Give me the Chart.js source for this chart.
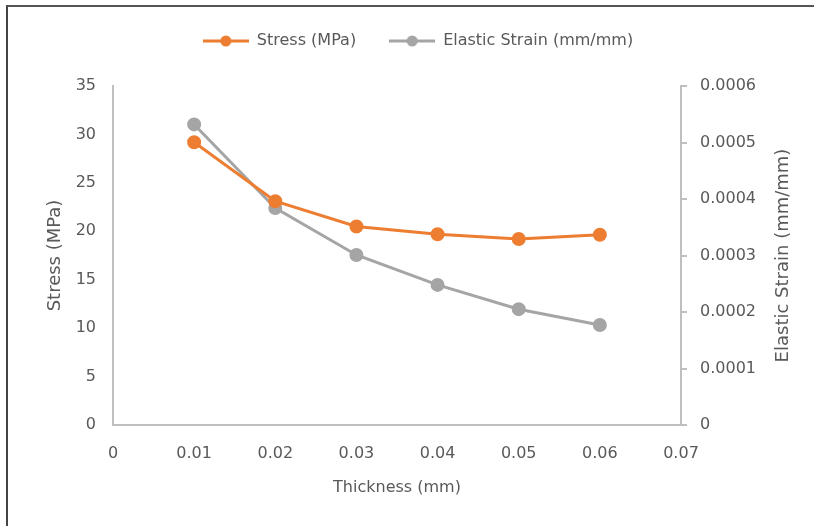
<!DOCTYPE html>
<html>
<head>
<meta charset="utf-8">
<title>Stress / Elastic Strain vs Thickness</title>
<script src="https://cdn.jsdelivr.net/npm/chart.js@4.4.1/dist/chart.umd.min.js"></script>
<style>
    html, body { margin: 0; padding: 0; background: #fff; }
    #wrap { position: relative; width: 814px; height: 526px; overflow: hidden; }
    #frame {
        position: absolute; left: 6px; top: 5px; right: -10px; bottom: -10px;
        border-top: 2px solid #555; border-left: 2px solid #444;
        pointer-events: none;
    }
</style>
</head>
<body>
<div id="wrap">
    <canvas id="chart" width="814" height="526"></canvas>
    <div id="frame"></div>
</div>
<script>
// ---- data ----
const thickness = [0.01, 0.02, 0.03, 0.04, 0.05, 0.06];
const stress = [29.2, 23.1, 20.5, 19.7, 19.2, 19.65];
const strain = [0.000532, 0.000384, 0.000301, 0.000248, 0.000205, 0.000177];

const seriesNames = ['Stress (MPa)', 'Elastic Strain (mm/mm)'];
const xTitle = 'Thickness (mm)';
const yLeftTitle = 'Stress (MPa)';
const yRightTitle = 'Elastic Strain (mm/mm)';

const ORANGE = '#ED7D31';
const GRAY = '#A5A5A5';
const TEXT = '#595959';
const AXIS = '#BFBFBF';
const FONT = "'DejaVu Sans', 'Open Sans', sans-serif";

// legend marker: short line with a dot
function legendMarker(color) {
    const c = document.createElement('canvas');
    c.width = 46; c.height = 14;
    const g = c.getContext('2d');
    g.strokeStyle = color; g.lineWidth = 3;
    g.beginPath(); g.moveTo(0, 7); g.lineTo(46, 7); g.stroke();
    g.fillStyle = color;
    g.beginPath(); g.arc(23, 7, 5.5, 0, Math.PI * 2); g.fill();
    return c;
}

// y-axis titles drawn reading bottom-to-top on both sides
const axisTitles = {
    id: 'axisTitles',
    afterDraw(chart) {
        const { ctx, chartArea } = chart;
        const cy = (chartArea.top + chartArea.bottom) / 2;
        ctx.save();
        ctx.fillStyle = TEXT;
        ctx.font = '18px ' + FONT;
        ctx.textAlign = 'center';
        ctx.textBaseline = 'middle';
        [[55, yLeftTitle], [783, yRightTitle]].forEach(([x, t]) => {
            ctx.save();
            ctx.translate(x, cy);
            ctx.rotate(-Math.PI / 2);
            ctx.fillText(t, 0, 0);
            ctx.restore();
        });
        ctx.restore();
    }
};

// the legend box takes the whole band above the plot
const legendHeight = {
    id: 'legendHeight',
    afterInit(chart) {
        const lg = chart.legend;
        const fit = lg.fit;
        lg.fit = function () { fit.call(this); this.height = 86; };
    }
};

const fmtX = v => v === 0 ? '0' : (+v.toFixed(2)).toString();
const fmtR = v => v === 0 ? '0' : v.toFixed(4);

new Chart(document.getElementById('chart'), {
    type: 'line',
    data: {
        datasets: [
            {
                label: seriesNames[0],
                data: thickness.map((x, i) => ({ x, y: stress[i] })),
                yAxisID: 'y',
                borderColor: ORANGE, backgroundColor: ORANGE,
                borderWidth: 3, pointRadius: 5.5, pointHoverRadius: 5.5,
                pointStyle: 'circle', tension: 0
            },
            {
                label: seriesNames[1],
                data: thickness.map((x, i) => ({ x, y: strain[i] })),
                yAxisID: 'y1',
                borderColor: GRAY, backgroundColor: GRAY,
                borderWidth: 3, pointRadius: 5.5, pointHoverRadius: 5.5,
                pointStyle: 'circle', tension: 0
            }
        ]
    },
    options: {
        responsive: false,
        animation: false,
        layout: { padding: { left: 22, right: 0, top: 0, bottom: 0 } },
        plugins: {
            tooltip: { enabled: false },
            legend: {
                position: 'top',
                labels: {
                    color: TEXT,
                    font: { family: FONT, size: 16 },
                    usePointStyle: true,
                    pointStyleWidth: 46,
                    padding: 33,
                    generateLabels: chart => chart.data.datasets.map((ds, i) => ({
                        text: ds.label,
                        pointStyle: legendMarker(ds.borderColor),
                        fontColor: TEXT,
                        lineWidth: 0,
                        datasetIndex: i
                    }))
                }
            }
        },
        scales: {
            x: {
                type: 'linear',
                min: 0, max: 0.07,
                ticks: { stepSize: 0.01, color: TEXT, font: { family: FONT, size: 16 }, padding: 19, callback: fmtX },
                grid: { display: false, drawTicks: false },
                border: { display: true, color: AXIS, width: 2 },
                title: { display: true, text: xTitle, color: TEXT, font: { family: FONT, size: 16 }, padding: { top: 0, bottom: 29 } },
                afterFit: s => { s.height = 101; }
            },
            y: {
                position: 'left',
                min: 0, max: 35,
                ticks: { stepSize: 5, color: TEXT, font: { family: FONT, size: 16 }, padding: 17 },
                grid: { display: false, drawTicks: false },
                border: { display: true, color: AXIS, width: 2 },
                afterFit: s => { s.width = 91; }
            },
            y1: {
                position: 'right',
                min: 0, max: 0.0006,
                ticks: { stepSize: 0.0001, color: TEXT, font: { family: FONT, size: 16 }, padding: 13, callback: fmtR },
                grid: { drawOnChartArea: false, drawTicks: true, tickLength: 6, color: AXIS, lineWidth: 2 },
                border: { display: true, color: AXIS, width: 2 },
                afterFit: s => { s.width = 133; }
            }
        }
    },
    plugins: [axisTitles, legendHeight]
});
</script>
</body>
</html>
